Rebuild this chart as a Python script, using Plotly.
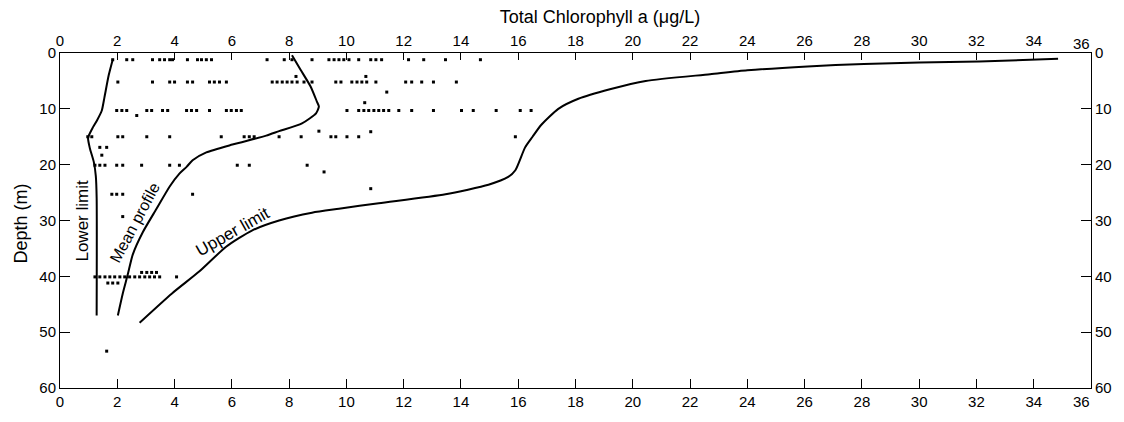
import plotly.graph_objects as go

# ---- data ----
x_ticks = list(range(0, 37, 2))
y_ticks = list(range(0, 61, 10))

lower_x = [1.84, 1.70, 1.55, 1.46, 1.30, 1.12, 0.98, 1.04, 1.18, 1.25, 1.28, 1.28]
lower_d = [1.2, 4.0, 8.0, 10.3, 12.0, 13.6, 15.2, 17.0, 19.5, 22.0, 26.0, 47.0]

mean_x = [8.10, 8.40, 8.75, 8.97, 9.04, 8.94, 8.45, 7.65, 7.20, 6.02, 5.11, 4.63, 4.42, 4.17,
          3.83, 3.37, 2.89, 2.54, 2.37, 2.19, 2.02]
mean_d = [0.4, 3.0, 6.0, 8.7, 9.6, 10.8, 12.6, 14.0, 14.8, 16.4, 17.8, 19.2, 20.4, 21.6,
          23.9, 27.9, 32.1, 36.1, 39.6, 43.1, 47.0]

upper_x = [34.85, 32.1, 30.0, 28.07, 26.1, 24.0, 22.7, 20.45, 19.2, 18.1, 17.4, 16.8, 16.5,
           16.24, 15.9, 15.65, 14.96, 13.46, 11.13, 9.74, 8.8, 7.65, 6.7, 5.8, 4.87, 3.9, 2.78]
upper_d = [1.05, 1.5, 1.7, 1.95, 2.4, 3.1, 3.8, 5.0, 6.5, 8.2, 10.0, 12.9, 15.0,
           16.9, 21.0, 22.2, 23.6, 25.3, 26.9, 27.9, 28.6, 30.0, 31.8, 34.7, 39.1, 43.1, 48.3]

row1_x = [1.84, 2.33, 2.54, 3.23, 3.48, 3.65, 3.83, 3.93, 4.45, 4.8, 4.94, 5.11, 5.29, 7.23,
          7.83, 8.10, 8.8, 9.39, 9.57, 9.74, 9.91, 10.09, 10.43, 10.85, 11.03, 11.23, 12.17,
          12.7, 13.46, 14.68]
row5_x = [2.02, 3.23, 3.83, 4.0, 4.45, 4.63, 5.22, 5.39, 5.57, 5.81, 7.41, 7.58, 7.76, 7.93,
          8.10, 8.28, 8.52, 8.8, 9.63, 9.81, 10.19, 10.37, 10.54, 10.71, 11.03, 12.07, 12.28,
          12.63, 13.04, 13.84]
row10_x = [1.98, 2.16, 2.33, 3.03, 3.2, 3.58, 3.76, 4.42, 4.59, 4.77, 5.22, 5.81, 5.98, 6.16,
           6.33, 10.02, 10.43, 10.61, 10.78, 10.96, 11.13, 11.3, 11.48, 11.83, 12.28, 13.04,
           14.02, 14.43, 15.23, 16.07, 16.45]
row15_x = [0.97, 1.11, 2.02, 2.19, 3.03, 3.83, 5.63, 6.43, 6.61, 6.78, 7.65, 8.42, 9.46,
           9.63, 10.02, 10.43, 15.9]
row20_x = [1.22, 1.39, 1.57, 1.98, 2.19, 2.85, 3.83, 4.17, 6.19, 6.61, 8.63]
row25_x = [1.81, 1.98, 2.19, 4.63]
row40_x = [1.22, 1.39, 1.57, 1.74, 1.91, 2.09, 2.26, 2.43, 2.61, 2.78, 2.96, 3.13, 3.30,
           3.48, 4.07]
row39_x = [2.85, 3.03, 3.2, 3.37]
row41_x = [1.67, 1.84, 2.02]
extra_x = [8.24, 10.68, 11.41, 2.68, 10.64, 9.04, 10.85, 1.39, 1.63, 1.46, 9.22, 10.85,
           2.19, 1.63]
extra_d = [4.2, 4.2, 7.0, 11.2, 8.9, 14.0, 14.1, 16.9, 16.9, 18.3, 21.3, 24.3, 29.3, 53.4]

rows = [(row1_x, 1.2), (row5_x, 5.2), (row10_x, 10.3), (row15_x, 15.0), (row20_x, 20.1),
        (row25_x, 25.3), (row40_x, 40.1), (row39_x, 39.3), (row41_x, 41.2)]

pts_x, pts_d = [], []
for xs, d in rows:
    pts_x += xs
    pts_d += [d] * len(xs)
pts_x += extra_x
pts_d += extra_d

FONT = "Liberation Sans, Arial, sans-serif"
TICK = 15
fig = go.Figure()

line_style = dict(color="black", width=2, shape="spline", smoothing=0.6)
for xs, ds in [(lower_x, lower_d), (mean_x, mean_d), (upper_x, upper_d)]:
    fig.add_trace(go.Scatter(x=xs, y=ds, mode="lines", line=line_style,
                             hoverinfo="skip", showlegend=False))

fig.add_trace(go.Scatter(x=pts_x, y=pts_d, mode="markers",
                         marker=dict(color="black", size=3, symbol="square"),
                         showlegend=False))

# invisible trace to activate top/right axes
fig.add_trace(go.Scatter(x=[0], y=[0], xaxis="x2", yaxis="y2", mode="markers",
                         marker=dict(opacity=0), showlegend=False, hoverinfo="skip"))

ax_common = dict(showgrid=False, zeroline=False, showline=True, linecolor="black",
                 linewidth=1, ticks="inside", tickcolor="black", tickwidth=1,
                 tickfont=dict(family=FONT, size=TICK, color="black"))

# last x label (36) is drawn right-aligned to the corner, as in the reference
x_text = [str(v) if v != 36 else "" for v in x_ticks]

fig.update_layout(
    width=1124, height=422,
    margin=dict(l=60, r=29, t=53, b=25),
    paper_bgcolor="white", plot_bgcolor="white",
    font=dict(family=FONT, color="black"),
    title=dict(text="Total Chlorophyll a (μg/L)", x=600 / 1124, xanchor="center",
               y=1 - 17 / 422, yanchor="middle",
               font=dict(family=FONT, size=18, color="black")),
    xaxis=dict(range=[0, 36], tickvals=x_ticks, ticktext=x_text, ticklen=9,
               side="bottom", **ax_common),
    xaxis2=dict(range=[0, 36], tickvals=x_ticks, ticktext=x_text, ticklen=7, side="top",
                overlaying="x", anchor="y", **ax_common),
    yaxis=dict(range=[60, 0], tickvals=y_ticks, ticklen=10, side="left", **ax_common),
    yaxis2=dict(range=[60, 0], tickvals=y_ticks, ticklen=10, side="right",
                overlaying="y", anchor="x", **ax_common),
)

tick_font = dict(family=FONT, size=TICK, color="black")
fig.add_annotation(text=str(x_ticks[-1]), xref="x", yref="paper", x=x_ticks[-1], y=1,
                   xanchor="right", yanchor="bottom", showarrow=False, font=tick_font,
                   xshift=1, yshift=-1)
fig.add_annotation(text=str(x_ticks[-1]), xref="x", yref="paper", x=x_ticks[-1], y=0,
                   xanchor="right", yanchor="top", showarrow=False, font=tick_font,
                   xshift=1, yshift=-3)

ann_font = dict(family=FONT, size=17, color="black")
fig.add_annotation(text="Depth (m)", xref="paper", yref="y", x=(21 - 60) / 1035, y=30.5,
                   textangle=-90, showarrow=False, xanchor="center", yanchor="middle",
                   font=dict(family=FONT, size=18, color="black"))
fig.add_annotation(text="Lower limit", x=0.77, y=30, textangle=-90, showarrow=False,
                   xanchor="center", yanchor="middle", font=ann_font)
fig.add_annotation(text="Mean profile", x=2.62, y=30.4, textangle=-62, showarrow=False,
                   xanchor="center", yanchor="middle", font=dict(family=FONT, size=16, color="black"))
fig.add_annotation(text="Upper limit", x=6.05, y=32.0, textangle=-29.5, showarrow=False,
                   xanchor="center", yanchor="middle", font=ann_font)

fig.write_html("out.html")
